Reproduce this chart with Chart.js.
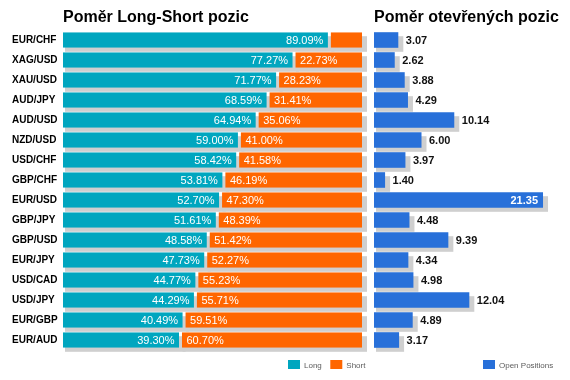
<!DOCTYPE html>
<html lang="cs">
<head>
<meta charset="UTF-8">
<title>Poměr Long-Short pozic</title>
<script src="https://cdn.jsdelivr.net/npm/chart.js@4"></script>
<style>
  html, body { margin: 0; padding: 0; background: #fff; }
  #wrap { position: relative; width: 570px; height: 380px; }
  #ratioChart { position: absolute; left: 0; top: 0; }
  #openChart { position: absolute; left: 365px; top: 0; }
</style>
</head>
<body>
<div id="wrap">
  <canvas id="ratioChart" width="370" height="380"></canvas>
  <canvas id="openChart" width="205" height="380"></canvas>
</div>
<script>
  const pairs = ["EUR/CHF", "XAG/USD", "XAU/USD", "AUD/JPY", "AUD/USD", "NZD/USD", "USD/CHF", "GBP/CHF",
                 "EUR/USD", "GBP/JPY", "GBP/USD", "EUR/JPY", "USD/CAD", "USD/JPY", "EUR/GBP", "EUR/AUD"];
  const longPct = [89.09, 77.27, 71.77, 68.59, 64.94, 59.00, 58.42, 53.81, 52.70, 51.61, 48.58, 47.73, 44.77, 44.29, 40.49, 39.30];
  const shortPct = [10.91, 22.73, 28.23, 31.41, 35.06, 41.00, 41.58, 46.19, 47.30, 48.39, 51.42, 52.27, 55.23, 55.71, 59.51, 60.70];
  const openPos = [3.07, 2.62, 3.88, 4.29, 10.14, 6.00, 3.97, 1.40, 21.35, 4.48, 9.39, 4.34, 4.98, 12.04, 4.89, 3.17];

  const FONT = '"Liberation Sans", Arial, sans-serif';
  const TEAL = "#00a6bf";
  const ORANGE = "#ff6600";
  const BLUE = "#2870d9";

  // grey drop shadow under every bar
  const shadowPlugin = {
    id: "barShadow",
    beforeDatasetsDraw(chart) {
      const ctx = chart.ctx;
      ctx.save();
      ctx.fillStyle = "#cfcfcf";
      chart.data.datasets.forEach((ds, i) => {
        chart.getDatasetMeta(i).data.forEach((bar) => {
          const p = bar.getProps(["x", "y", "base", "height"], true);
          const left = Math.min(p.x, p.base);
          const right = Math.max(p.x, p.base);
          ctx.fillRect(left + 2, p.y - p.height / 2 + 4, right - left + 3, p.height);
        });
      });
      ctx.restore();
    },
  };

  // panel title + small legend at the bottom
  const framePlugin = {
    id: "frame",
    afterDraw(chart, args, opts) {
      const ctx = chart.ctx;
      ctx.save();
      ctx.fillStyle = "#000";
      ctx.font = "bold 16px " + FONT;
      ctx.textAlign = "left";
      ctx.textBaseline = "alphabetic";
      ctx.fillText(opts.title, chart.chartArea.left, 22);

      ctx.font = "8px " + FONT;
      let x = opts.legendX;
      opts.legend.forEach((item) => {
        ctx.fillStyle = item.color;
        ctx.fillRect(x, 360, 12, 9);
        ctx.fillStyle = "#5c5c5c";
        ctx.fillText(item.text, x + 16, 368);
        x += 16 + ctx.measureText(item.text).width + 8.5;
      });
      ctx.restore();
    },
  };

  const ratioLabels = {
    id: "ratioLabels",
    afterDatasetsDraw(chart) {
      const ctx = chart.ctx;
      ctx.save();
      ctx.font = "11px " + FONT;
      ctx.fillStyle = "#fff";
      ctx.textBaseline = "alphabetic";
      [longPct, shortPct].forEach((values, i) => {
        chart.getDatasetMeta(i).data.forEach((bar, j) => {
          const p = bar.getProps(["x", "y", "base"], true);
          const text = values[j].toFixed(2) + "%";
          const w = ctx.measureText(text).width;
          if (Math.abs(p.x - p.base) < w + 12) return;
          if (i === 0) {
            ctx.textAlign = "right";
            ctx.fillText(text, p.x - 6, p.y + 4);
          } else {
            ctx.textAlign = "left";
            ctx.fillText(text, p.base + 6, p.y + 4);
          }
        });
      });
      ctx.restore();
    },
  };

  const openLabels = {
    id: "openLabels",
    afterDatasetsDraw(chart) {
      const ctx = chart.ctx;
      ctx.save();
      ctx.font = "bold 11px " + FONT;
      ctx.textBaseline = "alphabetic";
      chart.getDatasetMeta(0).data.forEach((bar, j) => {
        const p = bar.getProps(["x", "y"], true);
        const text = openPos[j].toFixed(2);
        const w = ctx.measureText(text).width;
        if (p.x + 8 + w > chart.width - 2) {
          ctx.fillStyle = "#fff";
          ctx.textAlign = "right";
          ctx.fillText(text, p.x - 5, p.y + 4);
        } else {
          ctx.fillStyle = "#111";
          ctx.textAlign = "left";
          ctx.fillText(text, p.x + 7.5, p.y + 4);
        }
      });
      ctx.restore();
    },
  };

  new Chart(document.getElementById("ratioChart"), {
    type: "bar",
    data: {
      labels: pairs,
      datasets: [
        {
          label: "Long",
          data: longPct,
          backgroundColor: TEAL,
          borderColor: "rgba(0,0,0,0)",
          borderWidth: { top: 0, bottom: 0, left: 0, right: 1.5 },
          borderSkipped: false,
          barPercentage: 0.78,
          categoryPercentage: 1,
        },
        {
          label: "Short",
          data: shortPct,
          backgroundColor: ORANGE,
          borderColor: "rgba(0,0,0,0)",
          borderWidth: { top: 0, bottom: 0, left: 1.5, right: 0 },
          borderSkipped: false,
          barPercentage: 0.78,
          categoryPercentage: 1,
        },
      ],
    },
    options: {
      indexAxis: "y",
      responsive: false,
      animation: false,
      layout: { padding: { left: 12, right: 8, top: 30, bottom: 30 } },
      scales: {
        x: { stacked: true, min: 0, max: 100, display: false },
        y: {
          stacked: true,
          grid: { display: false },
          border: { display: false },
          ticks: {
            color: "#000",
            crossAlign: "far",
            padding: 0,
            font: { family: FONT, size: 10, weight: "bold" },
          },
          afterFit(scale) {
            scale.width = 51;
          },
        },
      },
      plugins: {
        legend: { display: false },
        tooltip: { enabled: false },
        frame: {
          title: "Poměr Long-Short pozic",
          legendX: 288,
          legend: [
            { text: "Long", color: TEAL },
            { text: "Short", color: ORANGE },
          ],
        },
      },
    },
    plugins: [shadowPlugin, ratioLabels, framePlugin],
  });

  new Chart(document.getElementById("openChart"), {
    type: "bar",
    data: {
      labels: pairs,
      datasets: [
        {
          label: "Open Positions",
          data: openPos,
          backgroundColor: BLUE,
          barPercentage: 0.78,
          categoryPercentage: 1,
        },
      ],
    },
    options: {
      indexAxis: "y",
      responsive: false,
      animation: false,
      layout: { padding: { left: 9, right: 6, top: 30, bottom: 30 } },
      scales: {
        x: { min: 0, max: 24, display: false },
        y: { display: false },
      },
      plugins: {
        legend: { display: false },
        tooltip: { enabled: false },
        frame: {
          title: "Poměr otevřených pozic",
          legendX: 118,
          legend: [{ text: "Open Positions", color: BLUE }],
        },
      },
    },
    plugins: [shadowPlugin, openLabels, framePlugin],
  });
</script>
</body>
</html>
